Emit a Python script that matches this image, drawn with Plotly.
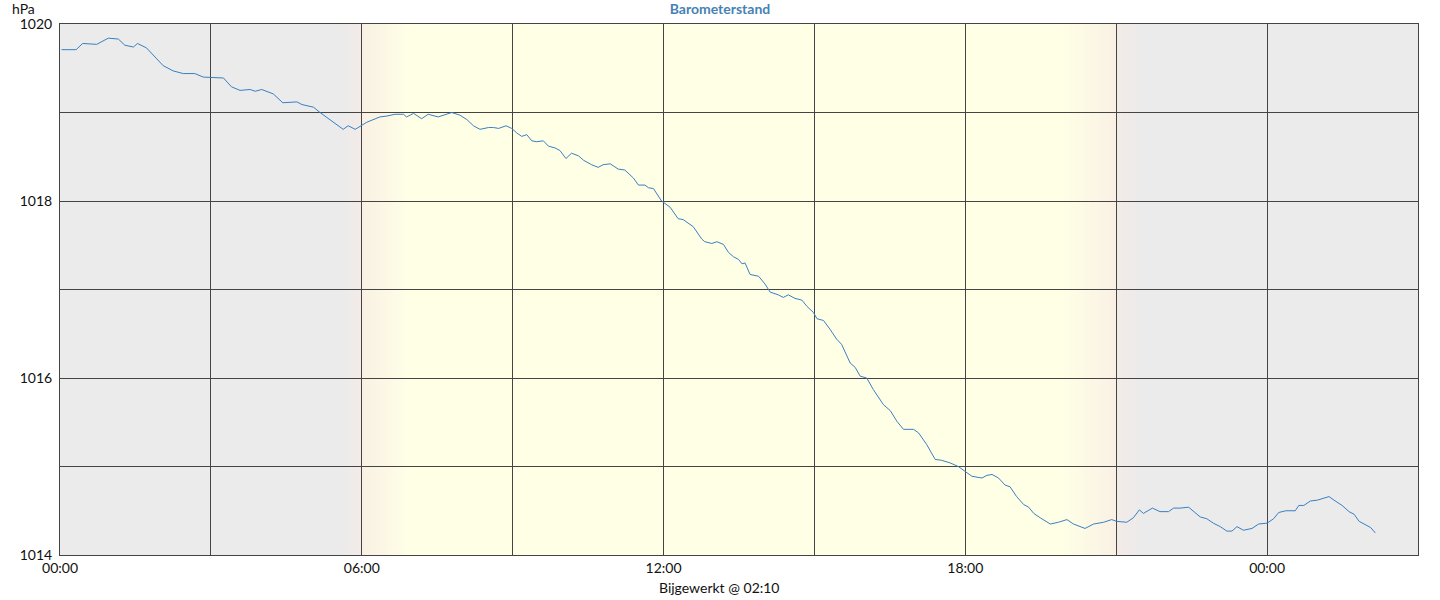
import pandas as pd
import plotly.graph_objects as go

# ------------------------------------------------------------------
# data (hours since midnight, pressure in hPa)
hours = [0.03, 0.32, 0.45, 0.73, 0.96, 1.16, 1.29, 1.46, 1.54, 1.72,
         2.05, 2.25, 2.45, 2.68, 2.85, 3.25, 3.41, 3.58, 3.78, 3.88,
         4.01, 4.24, 4.43, 4.71, 4.81, 5.04, 5.17, 5.44, 5.63, 5.73,
         5.87, 6.10, 6.36, 6.50, 6.66, 6.83, 6.89, 7.03, 7.19, 7.32,
         7.52, 7.79, 7.95, 8.09, 8.22, 8.35, 8.52, 8.62, 8.72, 8.87,
         8.98, 9.08, 9.18, 9.28, 9.38, 9.48, 9.61, 9.71, 9.84, 9.94,
         10.06, 10.17, 10.31, 10.41, 10.57, 10.70, 10.80, 10.94, 11.10, 11.23,
         11.40, 11.50, 11.63, 11.70, 11.80, 11.96, 12.13, 12.29, 12.39, 12.59,
         12.76, 12.82, 12.96, 13.06, 13.19, 13.29, 13.39, 13.49, 13.56, 13.62,
         13.72, 13.89, 14.02, 14.12, 14.28, 14.38, 14.48, 14.61, 14.75, 14.85,
         14.98, 15.05, 15.18, 15.31, 15.44, 15.54, 15.71, 15.81, 15.91, 16.04,
         16.17, 16.37, 16.51, 16.64, 16.77, 16.97, 17.07, 17.23, 17.40, 17.53,
         17.70, 17.86, 18.00, 18.13, 18.33, 18.43, 18.53, 18.66, 18.79, 18.89,
         19.02, 19.16, 19.26, 19.36, 19.49, 19.69, 19.85, 20.02, 20.15, 20.38,
         20.55, 20.75, 20.91, 21.01, 21.21, 21.34, 21.46, 21.54, 21.72, 21.87,
         22.04, 22.14, 22.27, 22.44, 22.67, 22.80, 22.93, 23.07, 23.20, 23.30,
         23.40, 23.53, 23.70, 23.83, 24.00, 24.13, 24.23, 24.37, 24.56, 24.63,
         24.73, 24.86, 25.00, 25.13, 25.23, 25.33, 25.49, 25.63, 25.73, 25.83,
         25.93, 26.06, 26.15]

pressure = [1019.71, 1019.71, 1019.78, 1019.77, 1019.84, 1019.83, 1019.76, 1019.74, 1019.78, 1019.73,
            1019.53, 1019.47, 1019.44, 1019.44, 1019.40, 1019.39, 1019.29, 1019.25, 1019.26, 1019.24,
            1019.26, 1019.21, 1019.11, 1019.12, 1019.09, 1019.06, 1019.00, 1018.89, 1018.81, 1018.85,
            1018.81, 1018.89, 1018.95, 1018.96, 1018.98, 1018.98, 1018.95, 1018.99, 1018.93, 1018.98,
            1018.95, 1019.00, 1018.97, 1018.92, 1018.85, 1018.81, 1018.83, 1018.83, 1018.82, 1018.85,
            1018.82, 1018.77, 1018.73, 1018.75, 1018.68, 1018.67, 1018.68, 1018.62, 1018.60, 1018.57,
            1018.48, 1018.54, 1018.51, 1018.46, 1018.41, 1018.38, 1018.41, 1018.42, 1018.36, 1018.35,
            1018.26, 1018.18, 1018.18, 1018.15, 1018.14, 1018.00, 1017.93, 1017.80, 1017.79, 1017.71,
            1017.57, 1017.54, 1017.52, 1017.54, 1017.51, 1017.42, 1017.37, 1017.34, 1017.29, 1017.30,
            1017.17, 1017.15, 1017.06, 1016.97, 1016.94, 1016.91, 1016.94, 1016.90, 1016.88, 1016.81,
            1016.74, 1016.67, 1016.65, 1016.55, 1016.44, 1016.38, 1016.17, 1016.12, 1016.02, 1016.00,
            1015.87, 1015.70, 1015.63, 1015.51, 1015.42, 1015.42, 1015.38, 1015.25, 1015.08, 1015.07,
            1015.04, 1015.00, 1014.94, 1014.89, 1014.87, 1014.90, 1014.91, 1014.87, 1014.79, 1014.77,
            1014.66, 1014.57, 1014.54, 1014.47, 1014.42, 1014.35, 1014.37, 1014.40, 1014.35, 1014.30,
            1014.35, 1014.37, 1014.40, 1014.38, 1014.37, 1014.42, 1014.51, 1014.47, 1014.53, 1014.49,
            1014.49, 1014.53, 1014.53, 1014.54, 1014.43, 1014.41, 1014.36, 1014.32, 1014.27, 1014.27,
            1014.32, 1014.28, 1014.30, 1014.35, 1014.36, 1014.41, 1014.48, 1014.50, 1014.50, 1014.56,
            1014.56, 1014.61, 1014.62, 1014.64, 1014.66, 1014.62, 1014.56, 1014.49, 1014.46, 1014.38,
            1014.35, 1014.31, 1014.25]

sunrise = 6.0
sunset = 21.0
updated = '02:10'

BASE = pd.Timestamp('2024-06-20')
NIGHT = (235, 235, 235)
DAY = (255, 255, 230)
EDGE_NIGHT = (243, 235, 231)
EDGE_DAY = (249, 241, 228)


def to_time(h):
    return BASE + pd.Timedelta(hours=h)


def rgb(c):
    return 'rgb(%d,%d,%d)' % c


def mix(a, b, f):
    return tuple(round(a[i] + (b[i] - a[i]) * f) for i in range(3))


def gradient(h0, h1, c0, c1, n=30):
    '''thin vertical strips blending c0 -> c1'''
    out = []
    step = (h1 - h0) / n
    for i in range(n):
        out.append(dict(type='rect', xref='x', yref='paper', layer='below',
                        x0=to_time(h0 + i * step), x1=to_time(h0 + (i + 1) * step + step * 0.5),
                        y0=0, y1=1, line_width=0, fillcolor=rgb(mix(c0, c1, (i + 0.5) / n))))
    return out


fig = go.Figure()

fig.add_trace(go.Scatter(x=[to_time(h) for h in hours], y=pressure, mode='lines',
                         line=dict(color='#3a7fc2', width=1), hoverinfo='x+y'))

shapes = [dict(type='rect', xref='x', yref='paper', layer='below',
               x0=to_time(sunrise), x1=to_time(sunset), y0=0, y1=1,
               line_width=0, fillcolor=rgb(DAY))]
# dawn / dusk blends
shapes += gradient(sunrise - 0.45, sunrise, NIGHT, EDGE_NIGHT)
shapes += gradient(sunrise, sunrise + 0.95, EDGE_DAY, DAY)
shapes += gradient(sunset - 1.1, sunset, DAY, EDGE_DAY)
shapes += gradient(sunset, sunset + 0.55, EDGE_NIGHT, NIGHT)

fig.update_layout(
    width=1440, height=600,
    margin=dict(l=60, r=22, t=24, b=45),
    paper_bgcolor='white', plot_bgcolor=rgb(NIGHT),
    font=dict(family='Lato, sans-serif', size=14, color='#111'),
    showlegend=False,
    shapes=shapes,
    title=dict(text='<b>Barometerstand</b>', x=0.5, xref='container', xanchor='center',
               y=0.985, yanchor='middle', font=dict(size=14, color='#4682b4')),
)

fig.update_xaxes(type='date', range=[to_time(0), to_time(27)],
                 tickformat='%H:%M', dtick=6 * 3600000, tick0=to_time(0),
                 showgrid=True, gridcolor='#444', gridwidth=1,
                 minor=dict(dtick=3 * 3600000, showgrid=True, gridcolor='#444', gridwidth=1),
                 ticks='', showline=True, linecolor='#444', linewidth=1, mirror=True,
                 zeroline=False, tickfont=dict(size=14))

fig.update_yaxes(range=[1014, 1020], dtick=2, tick0=1014,
                 showgrid=True, gridcolor='#444', gridwidth=1,
                 minor=dict(dtick=1, showgrid=True, gridcolor='#444', gridwidth=1),
                 ticks='', showline=True, linecolor='#444', linewidth=1, mirror=True,
                 zeroline=False, tickfont=dict(size=14), ticklabelstandoff=4)

fig.add_annotation(xref='paper', yref='paper', x=-0.037, y=1.03, xanchor='left', yanchor='middle',
                   showarrow=False, text='hPa', font=dict(size=14))
fig.add_annotation(xref='paper', yref='paper', x=0.486, y=-0.062, xanchor='center', yanchor='middle',
                   showarrow=False, text=f'Bijgewerkt @ {updated}', font=dict(size=14))

# page has a default 8px body margin; drop it so the 1440x600 figure fills the window
fig.write_html('out.html', config={'displayModeBar': False},
               post_script="document.body.style.margin='0';")
